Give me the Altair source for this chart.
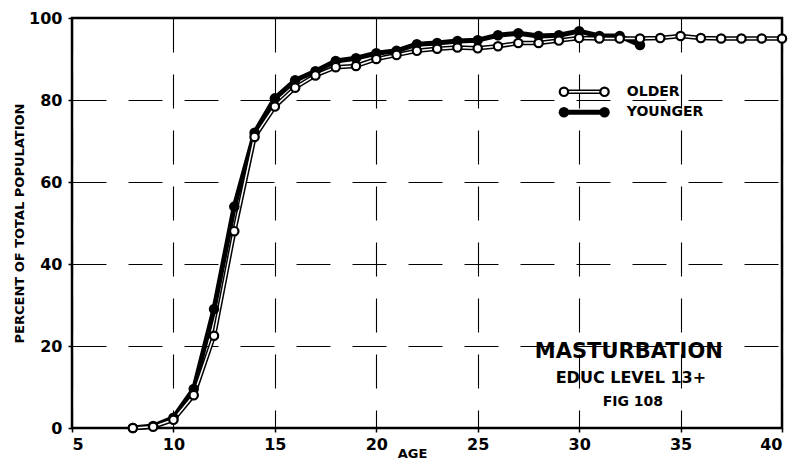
import altair as alt
import pandas as pd

# ---- data ----
ages_younger = list(range(8, 34))
younger = [0, 0.5, 2.5, 9.5, 29, 54, 72, 80.4, 84.8, 87, 89.5, 90.2, 91.4, 92,
           93.6, 93.9, 94.4, 94.6, 95.8, 96.3, 95.6, 95.8, 96.8, 95.6, 95.6, 93.4]
ages_older = list(range(8, 41))
older = [0, 0.3, 2, 8, 22.5, 48, 71, 78.4, 83, 86, 88, 88.3, 90, 91, 92, 92.5,
         92.8, 92.6, 93.1, 93.9, 93.9, 94.5, 95.1, 95, 95, 95, 95.1, 95.6, 95.1,
         95, 95, 95, 95]
x_ticks = [5, 10, 15, 20, 25, 30, 35, 40]
y_ticks = [0, 20, 40, 60, 80, 100]
legend_labels = ["OLDER", "YOUNGER"]

df_y = pd.DataFrame({"age": ages_younger, "pct": younger})
df_o = pd.DataFrame({"age": ages_older, "pct": older})

FONT = "DejaVu Sans"

x_enc = alt.X("age:Q", scale=alt.Scale(domain=[5, 40], nice=False, zero=False),
              axis=alt.Axis(values=x_ticks, title="AGE", grid=True))
y_enc = alt.Y("pct:Q", scale=alt.Scale(domain=[0, 100], nice=False),
              axis=alt.Axis(values=y_ticks, title="PERCENT OF TOTAL POPULATION", grid=True))

base_y = alt.Chart(df_y).encode(x=x_enc, y=y_enc)
base_o = alt.Chart(df_o).encode(x=x_enc, y=y_enc)

young_line = base_y.mark_line(color="black", strokeWidth=5, strokeJoin="round")
old_outline = base_o.mark_line(color="black", strokeWidth=4.5, strokeJoin="round")
old_core = base_o.mark_line(color="white", strokeWidth=1.5)
young_pts = base_y.mark_point(shape="circle", filled=True, color="black", size=110, opacity=1)
old_pts = base_o.mark_point(shape="circle", filled=True, fill="white", stroke="black",
                            strokeWidth=2.2, size=70, opacity=1)

# ---- legend (custom, drawn inside the plot) ----
leg_x1, leg_x2, leg_tx = 29.25, 31.25, 32.35
leg_old = pd.DataFrame({"age": [leg_x1, leg_x2], "pct": [82.0, 82.0]})
leg_young = pd.DataFrame({"age": [leg_x1, leg_x2], "pct": [77.0, 77.0]})
lo = alt.Chart(leg_old).encode(x="age:Q", y="pct:Q")
ly = alt.Chart(leg_young).encode(x="age:Q", y="pct:Q")
leg_layers = [
    lo.mark_line(color="black", strokeWidth=4.5),
    lo.mark_line(color="white", strokeWidth=1.5),
    lo.mark_point(shape="circle", filled=True, fill="white", stroke="black", strokeWidth=2.2, size=70, opacity=1),
    ly.mark_line(color="black", strokeWidth=5),
    ly.mark_point(shape="circle", filled=True, color="black", size=110, opacity=1),
]
leg_text = alt.Chart(pd.DataFrame({"age": [leg_tx, leg_tx], "pct": [82.0, 77.0], "t": legend_labels})).mark_text(
    align="left", baseline="middle", font=FONT, fontWeight="bold", fontSize=14, color="black"
).encode(x="age:Q", y="pct:Q", text="t:N")

# ---- annotation ----
title1 = alt.Chart(pd.DataFrame({"a": [0]})).mark_text(
    text="MASTURBATION", font=FONT, fontSize=21, fontWeight="bold", baseline="middle", align="center", color="black"
).encode(x=alt.datum(32.45), y=alt.datum(18.5))
title2 = alt.Chart(pd.DataFrame({"a": [0]})).mark_text(
    text="EDUC LEVEL 13+", font=FONT, fontSize=16, fontWeight="bold",
    baseline="middle", align="center", color="black"
).encode(x=alt.datum(32.55), y=alt.datum(12.2))
title3 = alt.Chart(pd.DataFrame({"a": [0]})).mark_text(
    text="FIG 108", font=FONT, fontSize=14, fontWeight="bold",
    baseline="middle", align="center", color="black"
).encode(x=alt.datum(32.65), y=alt.datum(6.3))

chart = alt.layer(
    young_line, old_outline, old_core, young_pts, old_pts,
    *leg_layers, leg_text, title1, title2, title3
).properties(
    width=710, height=410,
    autosize=alt.AutoSizeParams(type="none"),
    padding={"left": 64, "top": 10, "right": 10, "bottom": 33},
).configure_view(
    stroke="black", strokeWidth=2.5
).configure_axis(
    gridColor="black", gridDash=[34, 22], gridWidth=1.1, gridOpacity=1,
    domain=False, ticks=True, tickColor="black", tickSize=4, tickWidth=1.5,
    labelFont=FONT, labelFontSize=16, labelFontWeight="bold", labelColor="black",
    titleFont=FONT, titleFontWeight="bold", titleColor="black",
).configure_axisX(
    labelPadding=4, titleX=340, titleY=29, titleBaseline="alphabetic", titleFontSize=13
).configure_axisY(
    labelPadding=6, titlePadding=2, titleFontSize=13
)

chart.save("out.html", embed_options={"renderer": "svg", "actions": False})
